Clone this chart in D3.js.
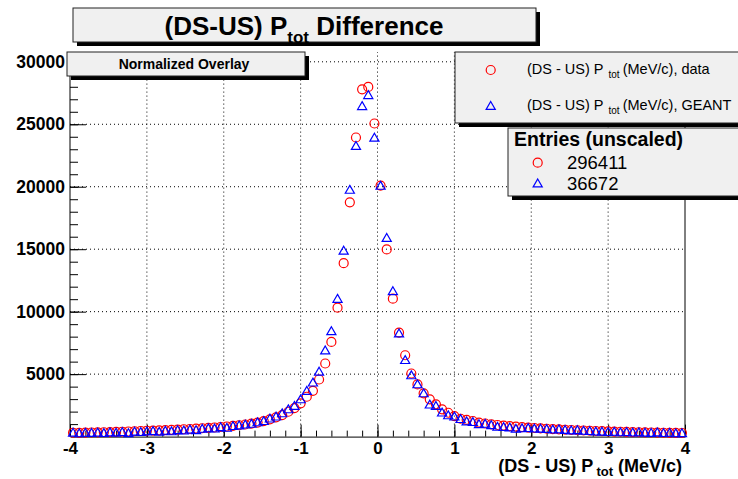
<!DOCTYPE html>
<html>
<head>
<meta charset="utf-8">
<script src="https://cdn.jsdelivr.net/npm/d3@7"></script>
<style>
  body { margin: 0; background: #fff; }
  text { font-family: "Liberation Sans", Arial, sans-serif; }
</style>
</head>
<body>
<div class="canvas"></div>
<script>
// bin centres (100 bins of 0.08 MeV/c between -4 and 4)
const binCenters = d3.range(100).map(i => -3.96 + i * 0.08);

// normalized counts, data (red circles)
const dataCounts = [
  310, 300, 320, 330, 340, 350, 360, 380, 390, 410,
  430, 450, 470, 480, 500, 520, 540, 560, 590, 610,
  640, 670, 700, 730, 770, 810, 860, 910, 970, 1040,
  1120, 1240, 1380, 1540, 1720, 1990, 2280, 2660, 3190, 3660,
  4570, 5850, 7580, 10320, 13880, 18750, 23940, 27800, 27990, 25060,
  20090, 14980, 11040, 8330, 6510, 5050, 4180, 3460, 2980, 2580,
  2180, 1910, 1640, 1430, 1340, 1250, 1120, 1050, 980, 930,
  880, 840, 800, 760, 720, 690, 660, 630, 600, 580,
  550, 530, 510, 490, 470, 450, 440, 420, 400, 390,
  380, 360, 350, 340, 330, 320, 310, 300, 300, 290
];

// normalized counts, GEANT (blue triangles)
const geantCounts = [
  250, 200, 240, 230, 260, 220, 280, 250, 300, 210,
  330, 300, 350, 380, 320, 400, 360, 450, 420, 500,
  450, 560, 600, 580, 690, 640, 780, 830, 900, 960,
  1080, 1180, 1380, 1540, 1800, 2120, 2390, 2920, 3590, 4260,
  5130, 6830, 8370, 10960, 14820, 19690, 23200, 26390, 27270, 23860,
  20010, 15830, 11570, 8190, 6060, 4840, 4120, 3400, 2500, 2390,
  1860, 1640, 1540, 1340, 1150, 1100, 930, 960, 850, 720,
  700, 660, 560, 600, 620, 580, 570, 540, 500, 520,
  470, 430, 450, 400, 380, 340, 330, 300, 320, 280,
  300, 260, 280, 250, 230, 270, 220, 240, 200, 210
];

const xTicks = [-4, -3, -2, -1, 0, 1, 2, 3, 4];
const yTicks = [5000, 10000, 15000, 20000, 25000, 30000];
const entries = ["296411", "36672"];

const svg = d3.select('.canvas').append('svg')
    .attr('width', 738)
    .attr('height', 479);

const x = d3.scaleLinear().domain([-4, 4]).range([70, 685]);
const y = d3.scaleLinear().domain([0, 30000]).range([436.6, 61.8]);
const frameTop = 52;

// grid (dotted)
const grid = svg.append('g').attr('stroke', '#000').attr('stroke-dasharray', '1,3');
grid.selectAll('.gx').data(xTicks.slice(1, -1)).join('line')
    .attr('x1', d => x(d)).attr('x2', d => x(d))
    .attr('y1', y(0)).attr('y2', frameTop);
grid.selectAll('.gy').data(yTicks).join('line')
    .attr('x1', x(-4)).attr('x2', x(4))
    .attr('y1', d => y(d)).attr('y2', d => y(d));

// axes
const xAxis = svg.append('g')
    .attr('transform', `translate(0,${y(0)})`)
    .call(d3.axisBottom(x).tickValues(xTicks).tickSizeInner(-12).tickSizeOuter(0)
        .tickPadding(5).tickFormat(d => String(d)));
svg.append('g')
    .attr('transform', `translate(0,${y(0)})`)
    .call(d3.axisBottom(x).tickValues(d3.range(-40, 41, 2).map(d => d / 10))
        .tickSizeInner(-6).tickSizeOuter(0).tickFormat(''))
    .select('.domain').remove();
xAxis.selectAll('text')
    .attr('font-size', 17).attr('font-weight', 'bold').attr('fill', '#000');

const yAxis = svg.append('g')
    .attr('transform', `translate(${x(-4)},0)`)
    .call(d3.axisLeft(y).tickValues(yTicks).tickSizeInner(-16).tickSizeOuter(0)
        .tickPadding(5).tickFormat(d => String(d)));
svg.append('g')
    .attr('transform', `translate(${x(-4)},0)`)
    .call(d3.axisLeft(y).tickValues(d3.range(1000, 30001, 1000))
        .tickSizeInner(-8).tickSizeOuter(0).tickFormat(''))
    .select('.domain').remove();
yAxis.select('.domain').attr('d', `M0,${y(0)}V${frameTop}`);
yAxis.selectAll('text')
    .attr('font-size', 17.5).attr('font-weight', 'bold').attr('fill', '#000');
svg.selectAll('.domain, .tick line').attr('stroke', '#000');

// right side of the frame
svg.append('line')
    .attr('x1', x(4)).attr('x2', x(4))
    .attr('y1', y(0)).attr('y2', frameTop)
    .attr('stroke', '#000');

// axis title
const xt = svg.append('text')
    .attr('x', 682).attr('y', 472)
    .attr('text-anchor', 'end')
    .attr('font-size', 18).attr('font-weight', 'bold');
xt.append('tspan').text('(DS - US) P');
xt.append('tspan').attr('font-size', 13).attr('dy', 4).attr('dx', 3).text('tot');
xt.append('tspan').attr('dy', -4).text(' (MeV/c)');

// markers
const circleR = 4.5;
const tri = d3.symbol(d3.symbolTriangle).size(36);

svg.append('g').selectAll('circle')
    .data(dataCounts)
    .join('circle')
    .attr('cx', (d, i) => x(binCenters[i]))
    .attr('cy', d => y(d))
    .attr('r', circleR)
    .attr('fill', 'none')
    .attr('stroke', '#ff0000')
    .attr('stroke-width', 1.2);

svg.append('g').selectAll('path')
    .data(geantCounts)
    .join('path')
    .attr('d', tri)
    .attr('transform', (d, i) => `translate(${x(binCenters[i])},${y(d)})`)
    .attr('fill', 'none')
    .attr('stroke', '#0000ff')
    .attr('stroke-width', 1.2);

// boxes with shadow
function box(bx, by, bw, bh) {
  svg.append('rect')
      .attr('x', bx + 4).attr('y', by + 4)
      .attr('width', bw).attr('height', bh)
      .attr('fill', '#000');
  svg.append('rect')
      .attr('x', bx).attr('y', by)
      .attr('width', bw).attr('height', bh)
      .attr('fill', '#f0f0f0')
      .attr('stroke', '#222')
      .attr('stroke-width', 1);
}

// title
box(73, 8, 463, 34);
const title = svg.append('text')
    .attr('x', 304).attr('y', 35)
    .attr('text-anchor', 'middle')
    .attr('font-size', 26).attr('font-weight', 'bold');
title.append('tspan').text('(DS-US) P');
title.append('tspan').attr('font-size', 17).attr('dy', 8).text('tot');
title.append('tspan').attr('dy', -8).text(' Difference');

// normalized overlay label
box(67, 52, 238, 24);
svg.append('text')
    .attr('x', 184).attr('y', 69)
    .attr('text-anchor', 'middle')
    .attr('font-size', 14).attr('font-weight', 'bold')
    .text('Normalized Overlay');

// legend
box(455, 52, 300, 71);
const legendRows = [
  { label: 'data', color: '#ff0000', mark: 'circle', cy: 70 },
  { label: 'GEANT', color: '#0000ff', mark: 'tri', cy: 106.7 }
];
legendRows.forEach(r => {
  if (r.mark === 'circle') {
    svg.append('circle').attr('cx', 490.7).attr('cy', r.cy).attr('r', circleR)
        .attr('fill', 'none').attr('stroke', r.color).attr('stroke-width', 1.2);
  } else {
    svg.append('path').attr('d', tri)
        .attr('transform', `translate(490.7,${r.cy})`)
        .attr('fill', 'none').attr('stroke', r.color).attr('stroke-width', 1.2);
  }
  const t = svg.append('text').attr('x', 527).attr('y', r.cy + 3.5)
      .attr('font-size', 14.5);
  t.append('tspan').text('(DS - US) P');
  t.append('tspan').attr('font-size', 10).attr('dx', 5).attr('dy', 4).text('tot');
  t.append('tspan').attr('dx', 3).attr('dy', -4).text('(MeV/c), ' + r.label);
});

// entries box
box(508, 128, 250, 68);
svg.append('text')
    .attr('x', 514).attr('y', 146)
    .attr('font-size', 19.5).attr('font-weight', 'bold')
    .text('Entries (unscaled)');
svg.append('circle').attr('cx', 537.7).attr('cy', 162.7).attr('r', circleR)
    .attr('fill', 'none').attr('stroke', '#ff0000').attr('stroke-width', 1.2);
svg.append('path').attr('d', tri)
    .attr('transform', 'translate(537.7,184.3)')
    .attr('fill', 'none').attr('stroke', '#0000ff').attr('stroke-width', 1.2);
svg.selectAll('.entry').data(entries).join('text')
    .attr('x', 567)
    .attr('y', (d, i) => 168.7 + i * 21.5)
    .attr('font-size', 18.5)
    .text(d => d);
</script>
</body>
</html>
